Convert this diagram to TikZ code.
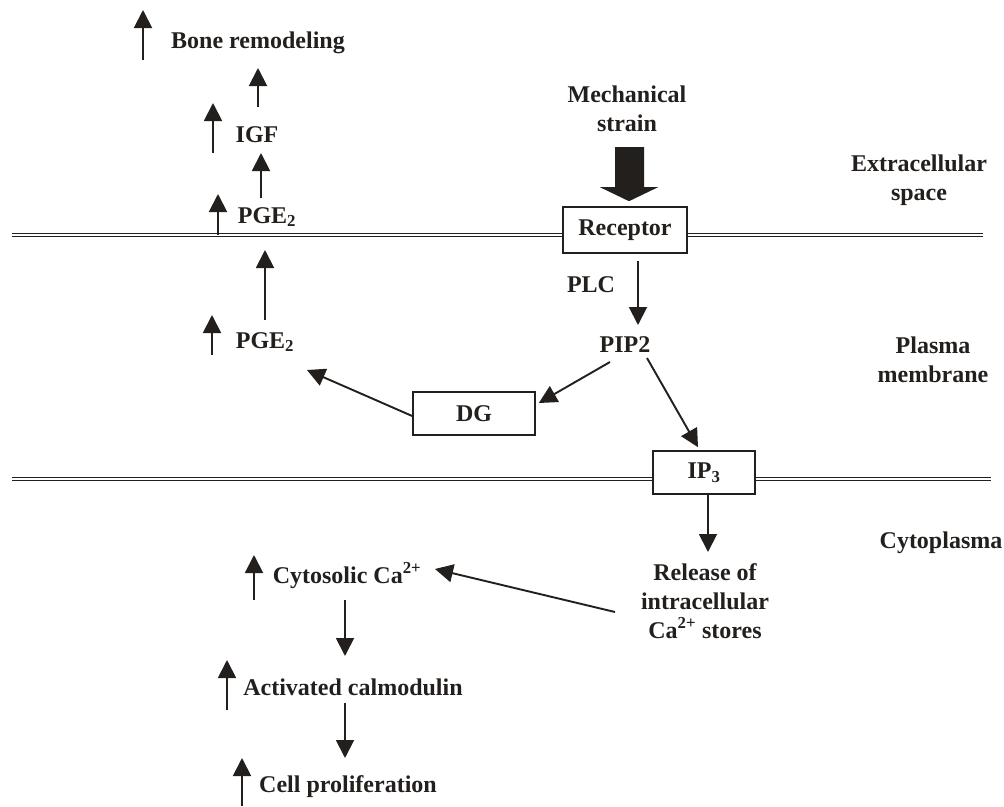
\documentclass[tikz,border=0pt]{standalone}
\usepackage{fontspec}
\setmainfont{Liberation Serif}
\usetikzlibrary{arrows.meta,calc}
\definecolor{ink}{RGB}{35,31,28}
\begin{document}
\begin{tikzpicture}[x=1pt,y=-1pt,
  txt/.style={font=\fontsize{24}{29}\selectfont\bfseries, text=ink, inner sep=0pt, anchor=base, align=center},
  box/.style={draw=ink, line width=1.6pt, fill=white, font=\fontsize{24}{29}\selectfont\bfseries, text=ink, inner sep=0pt},
  arr/.style={draw=ink, line width=1.9pt, -{Triangle[length=18pt,width=18pt]}},
  uparr/.style={arr},
  membrane/.style={draw=ink, double=white, double distance=2pt, line width=1.3pt}]
\useasboundingbox[fill=white] (0,0) rectangle (1004,806);

% membranes
\draw[membrane] (12,235) -- (983,235);
\draw[membrane] (12,479) -- (991,479);

% boxes
\node[box, minimum width=124pt, minimum height=46pt] (rec) at (625,230) {Receptor};
\node[box, minimum width=122pt, minimum height=43pt] (dg) at (474,413.5) {DG};
\node[box, minimum width=102pt, minimum height=43pt] (ip3) at (704,472.5) {IP\textsubscript{3}};

% texts (multi-line nodes: base = last line)
\node[txt] (bone) at (258,48) {Bone remodeling};
\node[txt] (igf) at (257,142) {IGF};
\node[txt] (pgeT) at (267,223) {PGE\textsubscript{2}};
\node[txt] (pgeL) at (265,348) {PGE\textsubscript{2}};
\node[txt] (mech) at (627,131) {Mechanical\\strain};
\node[txt] (extra) at (919,200) {Extracellular\\space};
\node[txt] (plasma) at (933,382) {Plasma\\membrane};
\node[txt] (cyto) at (941,548) {Cytoplasma};
\node[txt] (plc) at (591,292) {PLC};
\node[txt] (pip) at (625,352) {PIP2};
\node[txt] (rel) at (705,638) {Release of\\intracellular\\Ca\textsuperscript{2+} stores};
\node[txt] (cyt) at (347,583) {Cytosolic Ca\textsuperscript{2+}};
\node[txt] (act) at (353,695) {Activated calmodulin};
\node[txt] (cell) at (348,792) {Cell proliferation};

% block arrow: mechanical strain -> receptor
\fill[ink] ($(rec.north)+(-10,-59)$) -- ($(rec.north)+(19,-59)$) -- ($(rec.north)+(19,-19)$)
  -- ($(rec.north)+(33,-19)$) -- ($(rec.north)+(4,-5)$) -- ($(rec.north)+(-25,-19)$)
  -- ($(rec.north)+(-10,-19)$) -- cycle;

% connectors
\draw[arr] ($(pgeL.base)+(0,-28)$) -- ($(pgeT.base)+(-2,27)$);
\draw[arr] ($(pgeT.base)+(-6,-25)$) -- ($(igf.base)+(4,11)$);
\draw[arr] ($(igf.base)+(1,-35)$) -- ($(bone.base)+(0,20)$);
\draw[arr] ($(rec.south)+(13,7)$) -- ($(pip.base)+(13,-27)$);
\draw[arr] ($(pip.base)+(-15,10)$) -- ($(dg.east)+(3,-10.5)$);
\draw[arr] ($(pip.base)+(22,6)$) -- ($(ip3.north)+(-6,-3)$);
\draw[arr] ($(dg.west)+(0,2.5)$) -- ($(pgeL.base)+(42,22)$);
\draw[arr] ($(ip3.south)+(4,0)$) -- ($(rel.base)+(3,-86)$);
\draw[arr] ($(rel.base)+(-90,-26)$) -- ($(cyt.base)+(88,-14)$);
\draw[arr] ($(cyt.base)+(-2,17)$) -- ($(act.base)+(-8,-39)$);
\draw[arr] ($(act.base)+(-8,8)$) -- ($(cell.base)+(-3,-34)$);

% increase markers
\draw[uparr] ($(bone.base)+(-115,12)$) -- ($(bone.base)+(-115,-38)$);
\draw[uparr] ($(igf.base)+(-44,11)$) -- ($(igf.base)+(-44,-39)$);
\draw[uparr] ($(pgeT.base)+(-49,12)$) -- ($(pgeT.base)+(-49,-29)$);
\draw[uparr] ($(pgeL.base)+(-53,7)$) -- ($(pgeL.base)+(-53,-33)$);
\draw[uparr] ($(cyt.base)+(-93,17)$) -- ($(cyt.base)+(-93,-28)$);
\draw[uparr] ($(act.base)+(-126,15)$) -- ($(act.base)+(-126,-35)$);
\draw[uparr] ($(cell.base)+(-106,14)$) -- ($(cell.base)+(-106,-34)$);
\end{tikzpicture}
\end{document}
